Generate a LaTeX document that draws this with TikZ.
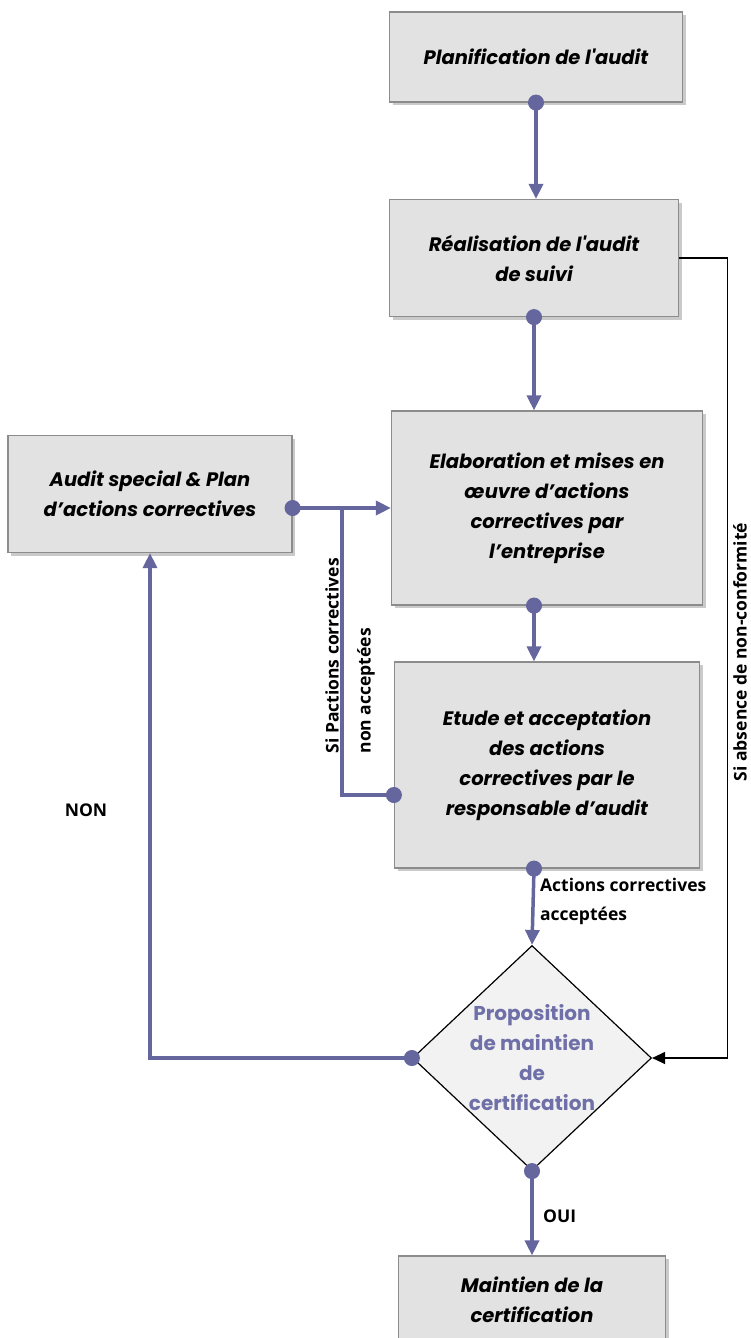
\documentclass[tikz,border=0pt]{standalone}
\usepackage{fontspec}
\setmainfont{Carlito}
\newfontfamily\lblfont{Open Sans}
\newfontfamily\gothic{Poppins}
\usetikzlibrary{arrows.meta,shapes.geometric,shadows,calc}

\definecolor{flowc}{RGB}{102,102,158}
\definecolor{boxfill}{RGB}{226,226,226}
\definecolor{boxline}{RGB}{140,140,140}
\definecolor{decfill}{RGB}{242,242,242}
\definecolor{dectext}{RGB}{112,112,168}

\tikzset{
  stepbox/.style={rectangle, draw=boxline, line width=1.2pt, fill=boxfill,
    align=center, inner sep=0pt,
    font=\gothic\bfseries\itshape\fontsize{19.5}{30}\selectfont,
    drop shadow={shadow xshift=3pt, shadow yshift=-3pt, opacity=0.35, fill=black!60}},
  flow/.style={draw=flowc, line width=3.5pt, shorten <=-8pt,
    {Circle[length=16pt]}-{Triangle[length=15pt,width=14pt]}},
  plain/.style={draw=flowc, line width=3.5pt, shorten <=-8pt,
    {Circle[length=16pt]}-},
  lbl/.style={font=\lblfont\bfseries\fontsize{17.5}{29}\selectfont, align=left}
}

\begin{document}
\begin{tikzpicture}[x=1pt,y=-1pt]
  \useasboundingbox (0,0) rectangle (750,1338);

  % steps
  \node[stepbox, minimum width=293pt, minimum height=90pt] (plan) at (536,57)
    {Planification de l'audit};
  \node[stepbox, minimum width=289pt, minimum height=117pt] (real) at (534,258)
    {Réalisation de l'audit\\de suivi};
  \node[stepbox, minimum width=311pt, minimum height=194pt] (elab) at (547,508)
    {Elaboration et mises en\\œuvre d’actions\\correctives par\\l’entreprise};
  \node[stepbox, minimum width=284pt, minimum height=117pt] (special) at (150,494)
    {Audit special \& Plan\\d’actions correctives};
  \node[stepbox, minimum width=305pt, minimum height=206pt] (etude) at (547,765)
    {Etude et acceptation\\des actions\\correctives par le\\responsable d’audit};
  \node[diamond, draw=black, line width=1.2pt, fill=decfill, inner sep=0pt,
    minimum width=239pt, minimum height=225pt,
    label={[font=\gothic\bfseries\fontsize{20}{30}\selectfont, text=dectext,
      align=center]center:Proposition\\de maintien\\de\\certification}]
    (dec) at (532,1058) {};
  \node[stepbox, minimum width=267pt, minimum height=88pt] (maint) at (532,1300)
    {Maintien de la\\certification};

  \coordinate (join) at ($(special.east |- elab.west)!0.5!(elab.west)$);

  % connectors
  \draw[flow] (plan.south) -- (plan.south |- real.north);
  \draw[flow] (real.south) -- (real.south |- elab.north);
  \draw[flow] (real.south |- elab.south) -- (real.south |- etude.north);
  \draw[flow] (real.south |- etude.south) --
    node[lbl, right, xshift=2pt, yshift=5pt] {Actions correctives\\acceptées} (dec.north);
  \draw[flow] (dec.south) -- node[lbl, right, xshift=6pt, yshift=-3pt] {OUI} (maint.north);
  \draw[flow] (dec.west) -- (dec.west -| special.south) -- (special.south);
  \draw[flow] (special.east |- elab.west) -- (elab.west);
  \draw[plain] ([yshift=-30pt]etude.west) -| (join);
  \draw[black, line width=1.2pt, -{Triangle[length=13pt,width=12pt]}]
    (real.east) -- ++(48,0) |- (dec.east);

  % labels
  \node[lbl] (non) at (86,810) {NON};
  \node[lbl, rotate=90, anchor=west] (sip) at (332,757) {Si Pactions correctives};
  \node[lbl, rotate=90, anchor=west] (nacc) at (366,757) {non acceptées};
  \node[lbl, rotate=90] (absn) at (740,652) {Si absence de non-conformité};
\end{tikzpicture}
\end{document}
